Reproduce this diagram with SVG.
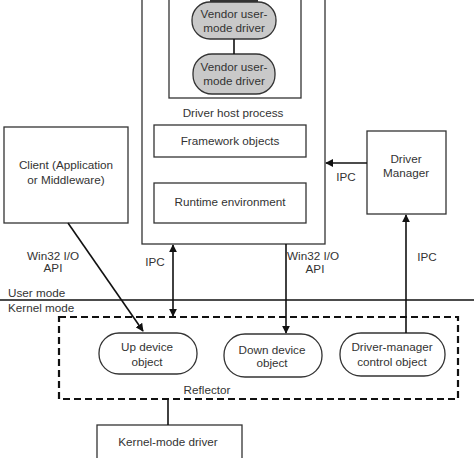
<svg xmlns="http://www.w3.org/2000/svg" width="474" height="458" viewBox="0 0 474 458">
<style>
text{font-family:"Liberation Sans",Arial,sans-serif;font-size:11.7px;fill:#333;text-anchor:middle}
.box{fill:#fff;stroke:#333;stroke-width:1.3}
.oval{fill:#c9c9c9;stroke:#333;stroke-width:1.3}
.rnd{fill:#fff;stroke:#333;stroke-width:1.3}
.ln{fill:none;stroke:#111;stroke-width:1.6}
.lt{text-anchor:start}
</style>
<defs>
<marker id="ah" viewBox="0 0 10 10" refX="9" refY="5" markerWidth="8" markerHeight="8" markerUnits="userSpaceOnUse" orient="auto-start-reverse"><path d="M0,0 L10,5 L0,10 z" fill="#111"/></marker>
</defs>
<rect width="474" height="458" fill="#fff"/>
<g id="host">
<rect class="box" x="142" y="-10" width="183" height="254"/>
<text x="233" y="117">Driver host process</text>
</g>
<g id="vendor-container">
<rect class="box" x="169" y="-10" width="132" height="108"/>
<rect x="210" y="0" width="48" height="2" fill="#333"/>
</g>
<g id="vendor1">
<rect class="oval" x="192" y="2" width="84" height="37" rx="18"/>
<text x="234" y="18">Vendor user-</text>
<text x="234" y="32">mode driver</text>
</g>
<g id="vendor2">
<rect class="oval" x="193" y="54" width="82" height="40" rx="19"/>
<text x="234" y="71">Vendor user-</text>
<text x="234" y="85">mode driver</text>
</g>
<g id="framework">
<rect class="box" x="154" y="125" width="152" height="32"/>
<text x="230" y="145">Framework objects</text>
</g>
<g id="runtime">
<rect class="box" x="154" y="183" width="152" height="40"/>
<text x="230" y="206">Runtime environment</text>
</g>
<g id="client">
<rect class="box" x="4" y="127" width="124" height="96"/>
<text x="66" y="169">Client (Application</text>
<text x="66" y="184">or Middleware)</text>
</g>
<g id="driver-manager">
<rect class="box" x="367" y="131" width="79" height="83"/>
<text x="406" y="163">Driver</text>
<text x="406" y="177">Manager</text>
</g>
<g id="mode-line">
<line x1="0" y1="300" x2="474" y2="300" stroke="#111" stroke-width="1.5"/>
<text class="lt" x="8" y="297">User mode</text>
<text class="lt" x="8" y="312">Kernel mode</text>
</g>
<g id="reflector">
<rect x="59" y="317" width="399" height="82" fill="none" stroke="#111" stroke-width="2.2" stroke-dasharray="7,4"/>
<text x="207" y="394">Reflector</text>
</g>
<g id="up-device">
<rect class="rnd" x="99" y="333" width="98" height="41" rx="20"/>
<text x="147" y="351">Up device</text>
<text x="147" y="366">object</text>
</g>
<g id="down-device">
<rect class="rnd" x="224" y="334" width="98" height="43" rx="21"/>
<text x="272" y="354">Down device</text>
<text x="272" y="367">object</text>
</g>
<g id="dm-control">
<rect class="rnd" x="340" y="333" width="105" height="43" rx="21"/>
<text x="392" y="351">Driver-manager</text>
<text x="392" y="366">control object</text>
</g>
<g id="kernel-driver">
<rect class="box" x="97" y="425" width="145" height="40"/>
<text x="168" y="446">Kernel-mode driver</text>
</g>
<g id="connectors">
<line class="ln" x1="234" y1="39" x2="234" y2="54"/>
<line class="ln" x1="68" y1="223" x2="143" y2="331" marker-end="url(#ah)"/>
<line class="ln" x1="173" y1="245" x2="173" y2="316" marker-start="url(#ah)" marker-end="url(#ah)"/>
<line class="ln" x1="286" y1="244" x2="286" y2="333" marker-end="url(#ah)"/>
<line class="ln" x1="367" y1="163" x2="326" y2="163" marker-end="url(#ah)"/>
<line class="ln" x1="406" y1="333" x2="406" y2="215" marker-end="url(#ah)"/>
<line class="ln" x1="168" y1="399" x2="168" y2="425"/>
<text x="53" y="260">Win32 I/O</text>
<text x="53" y="272">API</text>
<text x="155" y="266">IPC</text>
<text x="313" y="260">Win32 I/O</text>
<text x="315" y="273">API</text>
<text x="346" y="181">IPC</text>
<text x="427" y="261">IPC</text>
</g>
</svg>
